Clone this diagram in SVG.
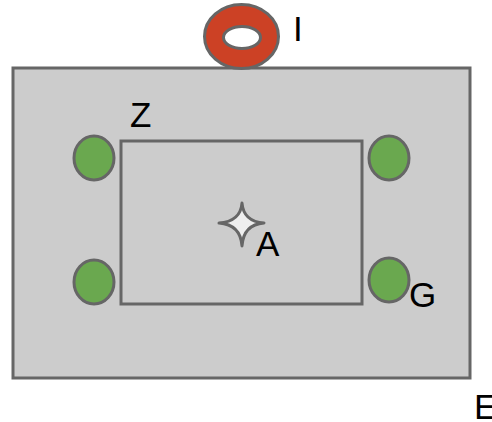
<svg xmlns="http://www.w3.org/2000/svg" width="492" height="422" viewBox="0 0 492 422">
<style>
.lbl{font-family:"Liberation Sans",Arial,sans-serif;font-size:35px;fill:#000}
.led{fill:#6aa84f;stroke:#666;stroke-width:3}
</style>
<rect width="492" height="422" fill="#fff"/>
<g id="E">
<rect x="13" y="68" width="457" height="310" fill="#cccccc" stroke="#666" stroke-width="3"/>
<text class="lbl" x="474" y="419">E</text>
</g>
<g id="Z">
<rect x="121" y="141" width="241" height="163" fill="#cccccc" stroke="#666" stroke-width="3"/>
<text class="lbl" x="130" y="127">Z</text>
</g>
<g id="I">
<path d="M204.5,36.5 a37,32 0 1,0 74,0 a37,32 0 1,0 -74,0 Z M223.5,37.5 a18.5,11 0 1,1 37,0 a18.5,11 0 1,1 -37,0 Z" fill="#cc4125" fill-rule="evenodd" stroke="#666" stroke-width="3"/>
<text class="lbl" x="293" y="41">I</text>
</g>
<g id="A">
<path d="M242,203 Q243.5,221.5 264,223 Q243.5,224.5 242,246 Q240.5,224.5 219,223 Q240.5,221.5 242,203 Z" fill="#eeeeee" stroke="#666" stroke-width="3" stroke-linejoin="round"/>
<text class="lbl" x="256" y="256">A</text>
</g>
<g id="G">
<ellipse class="led" cx="94" cy="158" rx="20" ry="22"/>
<ellipse class="led" cx="94" cy="282" rx="20" ry="22"/>
<ellipse class="led" cx="389" cy="158" rx="20" ry="22"/>
<ellipse class="led" cx="389" cy="280" rx="20" ry="22"/>
<text class="lbl" x="409" y="307">G</text>
</g>
<g id="connectors"></g>
</svg>
